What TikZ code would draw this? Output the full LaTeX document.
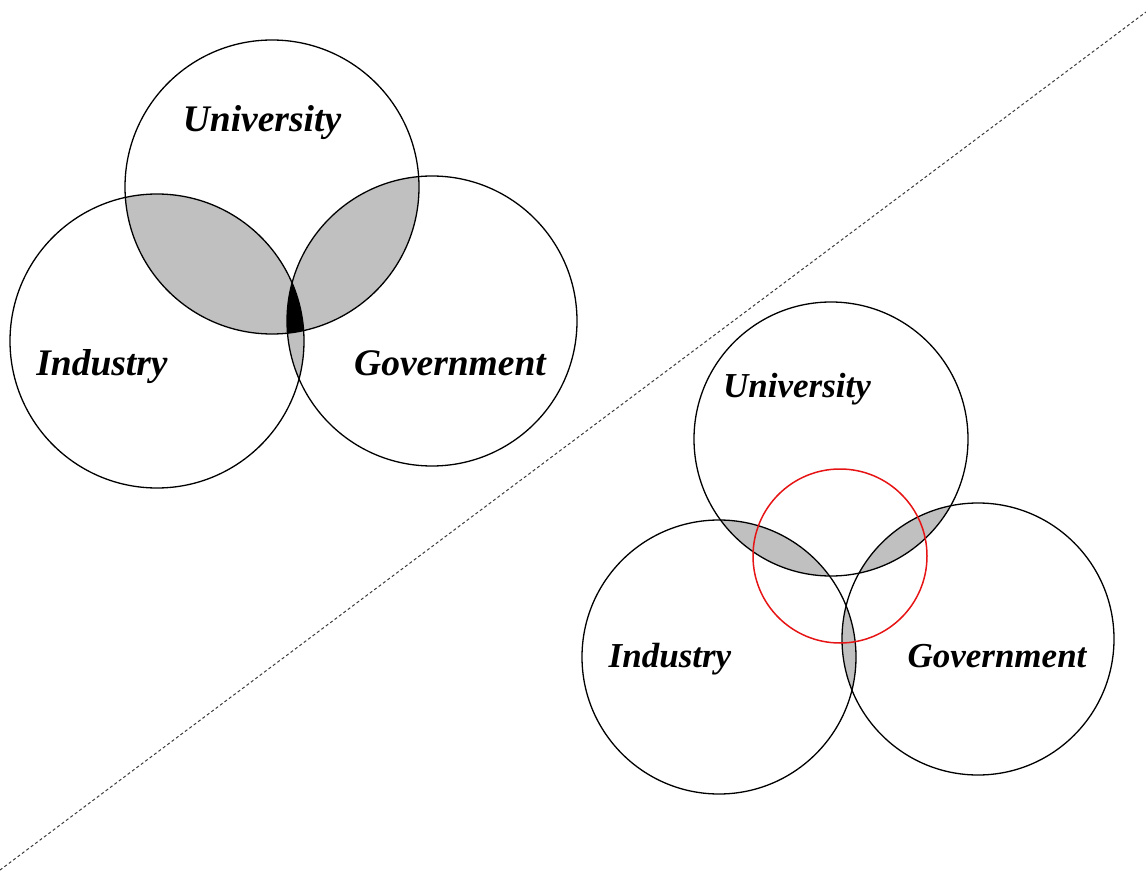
\documentclass[tikz,border=0pt]{standalone}
\usepackage{fontspec}
\setmainfont{Liberation Serif}
\definecolor{lensgray}{RGB}{192,192,192}
\definecolor{dashgray}{RGB}{60,60,60}
\definecolor{ringred}{RGB}{230,20,20}
\tikzset{
  ring/.style={draw=black, line width=1.3pt},
  redring/.style={draw=ringred, line width=1.5pt},
  lbl/.style={anchor=base, inner sep=0pt, font=\fontsize{37.5}{42}\selectfont\bfseries\itshape},
  lblsmall/.style={lbl, font=\fontsize{35}{40}\selectfont\bfseries\itshape},
  divider/.style={draw=dashgray, line width=1pt, dash pattern=on 3pt off 2.5pt}
}
\begin{document}
\begin{tikzpicture}[x=1pt,y=-1pt]
\useasboundingbox (0,0) rectangle (1146,877);
% centres
\coordinate (LU) at (272,187);
\coordinate (LI) at (157,341);
\coordinate (LG) at (432,321);
\coordinate (RU) at (831,439);
\coordinate (RI) at (719,657);
\coordinate (RG) at (978,639);
\coordinate (RR) at (840,556);
\coordinate (D1) at (0,870);
\coordinate (D2) at (1146,12);
% divider
\draw[divider] (D1) -- (D2);
% left lenses
\begin{scope}\clip (LU) circle[radius=147pt]; \fill[lensgray] (LI) circle[radius=147pt];\end{scope}
\begin{scope}\clip (LU) circle[radius=147pt]; \fill[lensgray] (LG) circle[radius=145pt];\end{scope}
\begin{scope}\clip (LI) circle[radius=147pt]; \fill[lensgray] (LG) circle[radius=145pt];\end{scope}
\begin{scope}\clip (LU) circle[radius=147pt]; \clip (LI) circle[radius=147pt]; \fill[black] (LG) circle[radius=145pt];\end{scope}
\draw[ring] (LU) circle[radius=147pt];
\draw[ring] (LI) circle[radius=147pt];
\draw[ring] (LG) circle[radius=145pt];
% right lenses
\begin{scope}\clip (RU) circle[radius=137pt]; \fill[lensgray] (RI) circle[radius=137pt];\end{scope}
\begin{scope}\clip (RU) circle[radius=137pt]; \fill[lensgray] (RG) circle[radius=136pt];\end{scope}
\begin{scope}\clip (RI) circle[radius=137pt]; \fill[lensgray] (RG) circle[radius=136pt];\end{scope}
\draw[ring] (RU) circle[radius=137pt];
\draw[ring] (RI) circle[radius=137pt];
\draw[ring] (RG) circle[radius=136pt];
\draw[redring] (RR) circle[radius=87pt];
% labels
\node[lbl] (lu) at (262,132) {University};
\node[lbl] (li) at (102,375) {Industry};
\node[lbl] (lg) at (450,375) {Government};
\node[lblsmall] (ru) at (797,397) {University};
\node[lblsmall] (ri) at (670,667) {Industry};
\node[lblsmall] (rg) at (997,667) {Government};
\end{tikzpicture}
\end{document}
